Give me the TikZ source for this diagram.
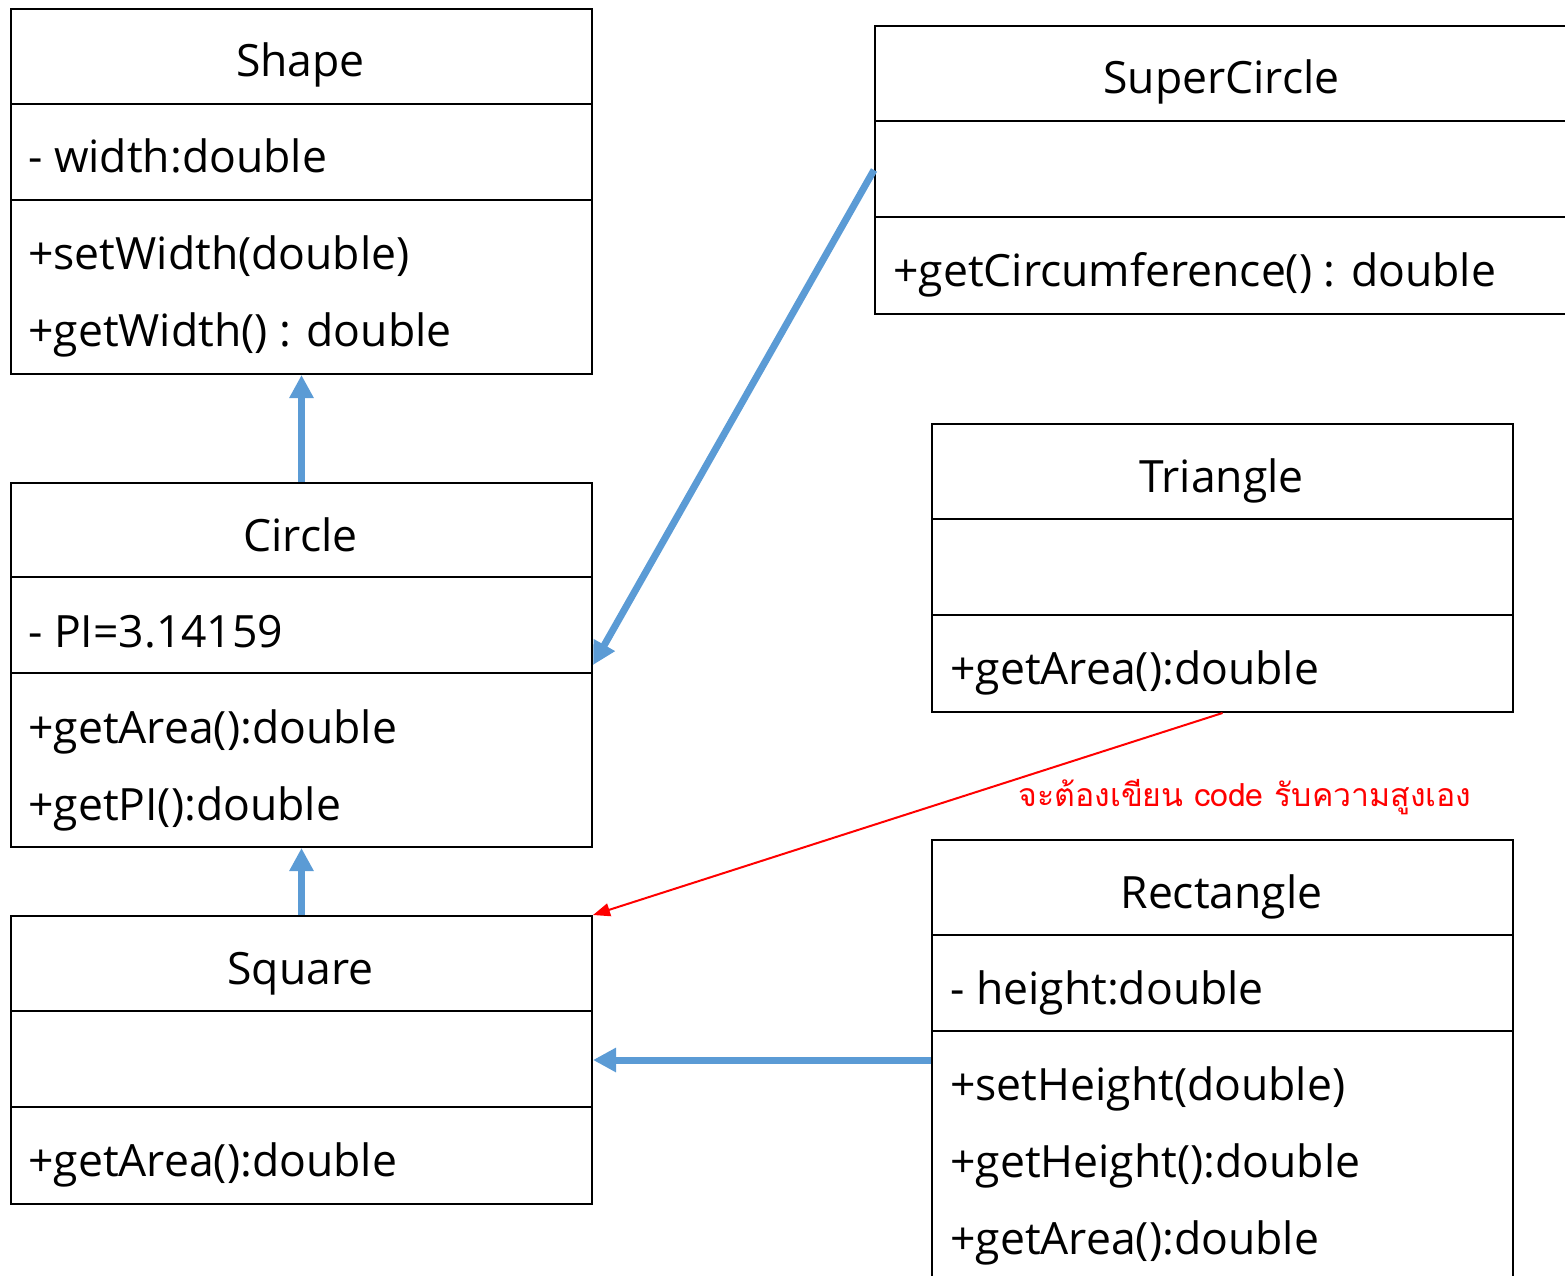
\documentclass[tikz,border=0pt]{standalone}
\usepackage{fontspec}
\setmainfont{Open Sans}
\newfontfamily\thaifont[Script=Thai]{Loma}
\usetikzlibrary{arrows.meta}
\definecolor{genblue}{RGB}{91,155,213}
\begin{document}
\begin{tikzpicture}[x=1pt,y=-1pt]
      \tikzstyle{every node}+=[inner sep=0pt, font=\fontsize{44.5}{48}\selectfont]
      \tikzstyle{cls}=[draw=black, line width=2pt, anchor=north west, minimum width=581pt]
      \tikzstyle{sep}=[black, line width=2pt]
      \tikzstyle{gen}=[genblue, line width=7pt, -{Triangle[width=23pt,length=23pt]}]
      \tikzstyle{note}=[red, line width=2pt, -{Triangle[width=13pt,length=17pt]}]
      \useasboundingbox (0,0) rectangle (1565,1276);
      % Shape
      \node [cls, minimum height=365pt] (shape) at (10,8) {};
      \draw [sep] (10,104) -- (591,104);
      \draw [sep] (10,200) -- (591,200);
      \node [anchor=base] (shape-name) at (300.5,77) {Shape};
      \node [anchor=base west] (shape-attr) at (28,173) {- width:double};
      \node [anchor=base west] (shape-op1) at (28,269) {+setWidth(double)};
      \node [anchor=base west] (shape-op2) at (28,346) {+getWidth() : double};
      % Circle
      \node [cls, minimum height=364pt] (circle) at (10,482) {};
      \draw [sep] (10,577) -- (591,577);
      \draw [sep] (10,673) -- (591,673);
      \node [anchor=base] (circle-name) at (300.5,551) {Circle};
      \node [anchor=base west] (circle-attr) at (28,647) {- PI=3.14159};
      \node [anchor=base west] (circle-op1) at (28,743) {+getArea():double};
      \node [anchor=base west] (circle-op2) at (28,820) {+getPI():double};
      % Square
      \node [cls, minimum height=288pt] (square) at (10,915) {};
      \draw [sep] (10,1011) -- (591,1011);
      \draw [sep] (10,1107) -- (591,1107);
      \node [anchor=base] (square-name) at (300.5,984) {Square};
      \node [anchor=base west] (square-op1) at (28,1176) {+getArea():double};
      % SuperCircle
      \node [cls, minimum width=700pt, minimum height=288pt] (supercircle) at (874,25) {};
      \draw [sep] (874,121) -- (1574,121);
      \draw [sep] (874,217) -- (1574,217);
      \node [anchor=base] (supercircle-name) at (1221.5,94) {SuperCircle};
      \node [anchor=base west] (supercircle-op1) at (893,286) {+getCircumference() : double};
      % Triangle
      \node [cls, minimum height=288pt] (triangle) at (931,423) {};
      \draw [sep] (931,519) -- (1512,519);
      \draw [sep] (931,615) -- (1512,615);
      \node [anchor=base] (triangle-name) at (1221.5,492) {Triangle};
      \node [anchor=base west] (triangle-op1) at (950,684) {+getArea():double};
      % Rectangle
      \node [cls, minimum height=440pt] (rectangle) at (931,839) {};
      \draw [sep] (931,935) -- (1512,935);
      \draw [sep] (931,1031) -- (1512,1031);
      \node [anchor=base] (rectangle-name) at (1221.5,908) {Rectangle};
      \node [anchor=base west] (rectangle-attr) at (950,1004) {- height:double};
      \node [anchor=base west] (rectangle-op1) at (950,1100) {+setHeight(double)};
      \node [anchor=base west] (rectangle-op2) at (950,1177) {+getHeight():double};
      \node [anchor=base west] (rectangle-op3) at (950,1254) {+getArea():double};
      % inheritance
      \draw [gen] (circle.north) -- (shape.south);
      \draw [gen] (square.north) -- (circle.south);
      \draw [gen] (supercircle.west) -- (circle.east);
      \draw [gen] (rectangle.west) -- (square.east);
      \draw [note] (triangle.south) -- (square.north east);
      \node [anchor=base, red, font=\thaifont\fontsize{32}{36}\selectfont] (note-text) at (1245,806) {จะต้องเขียน code รับความสูงเอง};
\end{tikzpicture}
\end{document}
